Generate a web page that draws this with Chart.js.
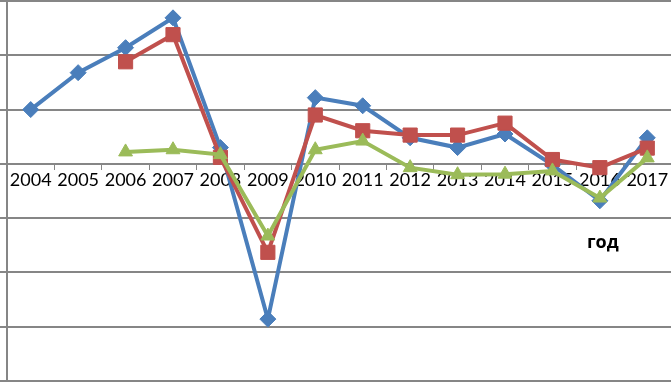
<!DOCTYPE html>
<html lang="ru">
<head>
<meta charset="UTF-8">
<title>Динамика по годам</title>
<script src="https://cdn.jsdelivr.net/npm/chart.js"></script>
<style>
  html, body { margin: 0; padding: 0; background: #fff; }
  #wrap { width: 671px; height: 383px; }
</style>
</head>
<body>
<div id="wrap"><canvas id="lineChart"></canvas></div>
<script>
// years on the x axis
const years = ['2004', '2005', '2006', '2007', '2008', '2009', '2010',
               '2011', '2012', '2013', '2014', '2015', '2016', '2017'];

// series values (y axis has no labels, unit = 1 gridline / 10)
const blueSeries  = [10.0, 16.8, 21.4, 26.9, 3.0, -28.6, 12.2, 10.7, 4.8, 3.0, 5.5, -0.2, -6.8, 4.8];
const redSeries   = [null, null, 18.8, 23.8, 1.2, -16.3, 9.0, 6.1, 5.3, 5.3, 7.5, 0.8, -0.7, 2.9];
const greenSeries = [null, null, 2.2, 2.6, 1.7, -13.3, 2.6, 4.2, -0.7, -2.0, -1.9, -1.3, -6.3, 1.1];

const yMin = -40;
const yMax = 30;
const yStep = 10;
const axisTitle = 'год';

// "год" sits under the tick labels, near 2016
const axisTitlePlugin = {
  id: 'axisTitle',
  afterDraw(chart) {
    const x = chart.scales.x, y = chart.scales.y;
    const ctx = chart.ctx;
    ctx.save();
    ctx.font = 'bold 18px "Open Sans"';
    ctx.fillStyle = '#000';
    ctx.textAlign = 'center';
    ctx.textBaseline = 'middle';
    ctx.fillText(axisTitle, x.getPixelForTick(12) + 3, y.getPixelForValue(-14.6));
    ctx.restore();
  }
};

const ctx = document.getElementById('lineChart').getContext('2d');
new Chart(ctx, {
  type: 'line',
  data: {
    labels: years,
    datasets: [
      {
        label: 'ряд 1',
        data: blueSeries,
        borderColor: '#4A7EBB',
        backgroundColor: '#4A7EBB',
        borderWidth: 4,
        pointStyle: 'rectRot',
        pointRadius: 8,
        pointBorderWidth: 1,
        order: 3
      },
      {
        label: 'ряд 2',
        data: redSeries,
        borderColor: '#C0504D',
        backgroundColor: '#C0504D',
        borderWidth: 4,
        pointStyle: 'rect',
        pointRadius: 10,
        pointBorderWidth: 1,
        order: 2
      },
      {
        label: 'ряд 3',
        data: greenSeries,
        borderColor: '#9BBB59',
        backgroundColor: '#9BBB59',
        borderWidth: 4,
        pointStyle: 'triangle',
        pointRadius: 8,
        pointBorderWidth: 1,
        order: 1
      }
    ]
  },
  options: {
    responsive: true,
    maintainAspectRatio: false,
    animation: false,
    events: [],
    layout: { autoPadding: false, padding: { top: 1, right: 0, bottom: 2, left: 0 } },
    plugins: {
      legend: { display: false },
      tooltip: { enabled: false }
    },
    elements: { line: { tension: 0 } },
    scales: {
      x: {
        position: { y: 0 },
        offset: true,
        grid: {
          offset: true,
          drawOnChartArea: false,
          drawTicks: true,
          tickLength: 5,
          color: '#868686',
          lineWidth: 1
        },
        border: { color: '#868686', width: 2 },
        ticks: {
          color: '#000',
          font: { family: 'Lato', size: 18 },
          padding: 1,
          maxRotation: 0,
          autoSkip: false
        }
      },
      y: {
        min: yMin,
        max: yMax,
        ticks: { display: false, stepSize: yStep },
        grid: {
          color: '#868686',
          lineWidth: 2,
          drawTicks: true,
          tickLength: 7
        },
        border: { color: '#868686', width: 2 }
      }
    }
  },
  plugins: [axisTitlePlugin]
});
</script>
</body>
</html>
